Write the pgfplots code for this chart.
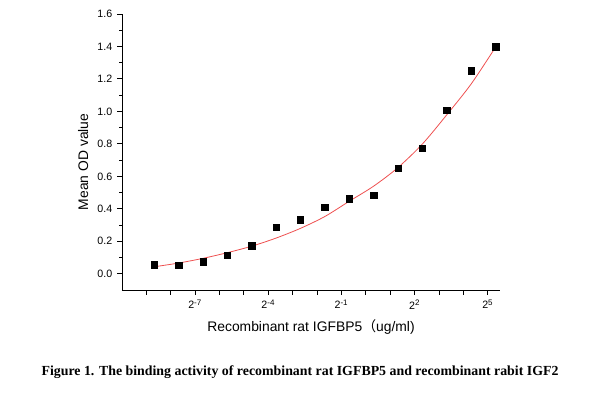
\documentclass[border=0pt]{standalone}
\usepackage{pgfplots}
\pgfplotsset{compat=1.18}
\usepackage{fontspec}
\setmainfont{Liberation Sans}
\newfontfamily\timesfont{Liberation Serif}
\newfontfamily\cjk{Noto Sans CJK SC}
\definecolor{fitred}{RGB}{238,80,80}
\begin{document}
\begin{tikzpicture}
\path[use as bounding box] (0pt,0pt) rectangle (456.75pt,296.25pt);
\begin{axis}[
  at={(91.5pt,78.75pt)}, anchor=south west,
  scale only axis, width=283.5pt, height=207pt,
  xmode=log, log basis x=2,
  xmin=0.0009765625, xmax=45.25,
  ymin=-0.1, ymax=1.6,
  axis lines=left,
  axis line style={-, line width=0.7pt},
  tick align=outside,
  tick style={line width=0.7pt, black},
  major tick length=3.75pt,
  minor tick length=2pt,
  xtick={0.001953125,0.00390625,0.0078125,0.015625,0.03125,0.0625,0.125,0.25,0.5,1,2,4,8,16,32},
  xticklabels={,,2\textsuperscript{-7},,,2\textsuperscript{-4},,,2\textsuperscript{-1},,,2\textsuperscript{2},,,2\textsuperscript{5}},
  minor xtick={},
  ytick={0,0.2,0.4,0.6,0.8,1.0,1.2,1.4,1.6},
  minor ytick={0.1,0.3,0.5,0.7,0.9,1.1,1.3,1.5},
  yticklabel style={/pgf/number format/fixed, /pgf/number format/precision=1, /pgf/number format/fixed zerofill},
  /pgf/number format/assume math mode=true,
  tick label style={font=\fontsize{8}{9.5}\selectfont},
  xlabel={Recombinant rat IGFBP5{\cjk （}ug/ml)},
  ylabel={Mean OD value},
  label style={font=\fontsize{10.4}{12}\selectfont},
  xlabel style={at={(axis description cs:0.5,-0.134)}, anchor=center},
  ylabel style={at={(axis description cs:-0.103,0.464)}, anchor=center},
  clip=false,
]
\addplot[fitred, line width=0.6pt, smooth] coordinates {
(0.00244140625,0.043) (0.0048828125,0.066) (0.009765625,0.095) (0.01953125,0.130)
(0.0390625,0.170) (0.078125,0.220) (0.15625,0.280) (0.3125,0.353) (0.625,0.447)
(1.25,0.540) (2.5,0.655) (5,0.800) (10,0.980) (20,1.170) (40,1.397)
};
\addplot[only marks, mark=square*, mark size=2.4pt, black] coordinates {
(0.00244140625,0.056) (0.0048828125,0.054) (0.009765625,0.074) (0.01953125,0.113)
(0.0390625,0.172) (0.078125,0.286) (0.15625,0.332) (0.3125,0.410) (0.625,0.463)
(1.25,0.483) (2.5,0.649) (5,0.773) (10,1.006) (20,1.251) (40,1.397)
};
\end{axis}
\node[font=\timesfont\bfseries\fontsize{10.4}{12}\selectfont] at (225pt,17.25pt) {Figure 1. The binding activity of recombinant rat IGFBP5 and recombinant rabit IGF2};
\end{tikzpicture}
\end{document}
